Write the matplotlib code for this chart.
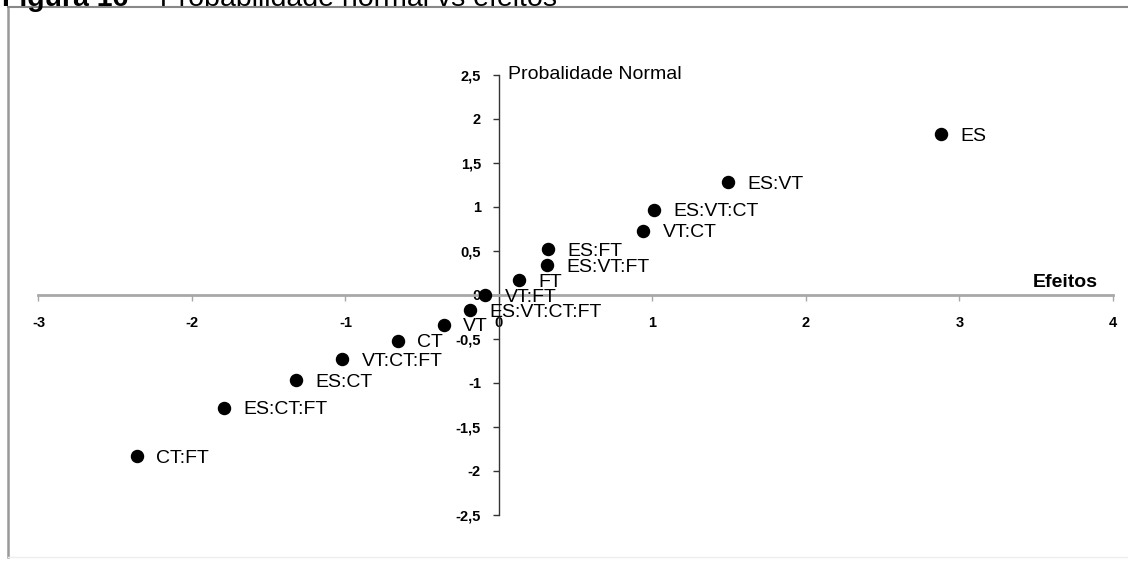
import matplotlib.pyplot as plt
from matplotlib.lines import Line2D

# Efeitos estimados e respetivos valores da probabilidade normal
efeitos = ['CT:FT', 'ES:CT:FT', 'ES:CT', 'VT:CT:FT', 'CT', 'VT', 'ES:VT:CT:FT',
           'VT:FT', 'FT', 'ES:VT:FT', 'ES:FT', 'VT:CT', 'ES:VT:CT', 'ES:VT', 'ES']
valores = [-2.36, -1.79, -1.32, -1.02, -0.66, -0.36, -0.19,
           -0.09, 0.13, 0.31, 0.32, 0.94, 1.01, 1.49, 2.88]
prob_normal = [-1.83, -1.28, -0.97, -0.73, -0.52, -0.34, -0.17,
               0.0, 0.17, 0.34, 0.52, 0.73, 0.97, 1.28, 1.83]

x_ticks = [-3, -2, -1, 0, 1, 2, 3, 4]
x_tick_labels = ['-3', '-2', '-1', '0', '1', '2', '3', '4']
y_ticks = [-2.5, -2, -1.5, -1, -0.5, 0, 0.5, 1, 1.5, 2, 2.5]
y_tick_labels = ['-2,5', '-2', '-1,5', '-1', '-0,5', '0', '0,5', '1', '1,5', '2', '2,5']

plt.rcParams['font.family'] = 'Liberation Sans'

fig = plt.figure(figsize=(11.28, 5.63), dpi=100)
ax = fig.add_axes([0.0341, 0.0853, 0.9526, 0.7815])

# Pontos e nomes dos efeitos
ax.scatter(valores, prob_normal, s=75, color='black', zorder=4, clip_on=False)
for nome, x, y in zip(efeitos, valores, prob_normal):
    ax.annotate(nome, (x, y), xytext=(14, -1.5), textcoords='offset points',
                va='center', fontsize=14, zorder=5)

ax.set_xlim(-3, 4)
ax.set_ylim(-2.5, 2.5)

# Eixos a cruzar na origem
ax.spines['top'].set_visible(False)
ax.spines['right'].set_visible(False)
ax.spines['left'].set_position(('data', 0))
ax.spines['bottom'].set_position(('data', 0))
ax.spines['left'].set_color('#333333')
ax.spines['left'].set_linewidth(1)
ax.spines['bottom'].set_color('#a8a8a8')
ax.spines['bottom'].set_linewidth(2)

ax.set_xticks(x_ticks, labels=x_tick_labels, fontsize=10.5, fontweight='bold')
ax.set_yticks(y_ticks, labels=y_tick_labels, fontsize=10.5, fontweight='bold')
ax.tick_params(axis='x', direction='out', length=4, width=1, color='#a8a8a8', pad=11)
ax.tick_params(axis='y', direction='out', length=4, width=1, color='#333333', pad=9)

ax.annotate('Probalidade Normal', (0, 2.5), xytext=(6.5, 0), textcoords='offset points',
            va='center', fontsize=14)
ax.annotate('Efeitos', (3.9, 0), xytext=(0, 5.5), textcoords='offset points',
            ha='right', va='baseline', fontsize=14, fontweight='bold')

# Moldura do gráfico (esquerda e topo bem marcados, fundo quase invisível)
esq, topo, fundo = 8 / 1128, 1 - 7 / 563, 1 - 557 / 563
fig.add_artist(Line2D([esq, esq], [fundo, topo], color='#999999', lw=1.8))
fig.add_artist(Line2D([esq, 1], [topo, topo], color='#888888', lw=1.5))
fig.add_artist(Line2D([esq, 1], [fundo, fundo], color='#eeeeee', lw=1))

# Legenda da figura no topo
t1 = fig.text(2 / 1128, 1 - 6 / 563, 'Figura 16', fontsize=20.5,
              fontweight='bold', va='baseline')
ax.annotate(' \u2013 Probabilidade normal vs efeitos', xy=(1, 0), xycoords=t1,
            va='bottom', fontsize=20.5)

fig.savefig('out.png', dpi=100)
